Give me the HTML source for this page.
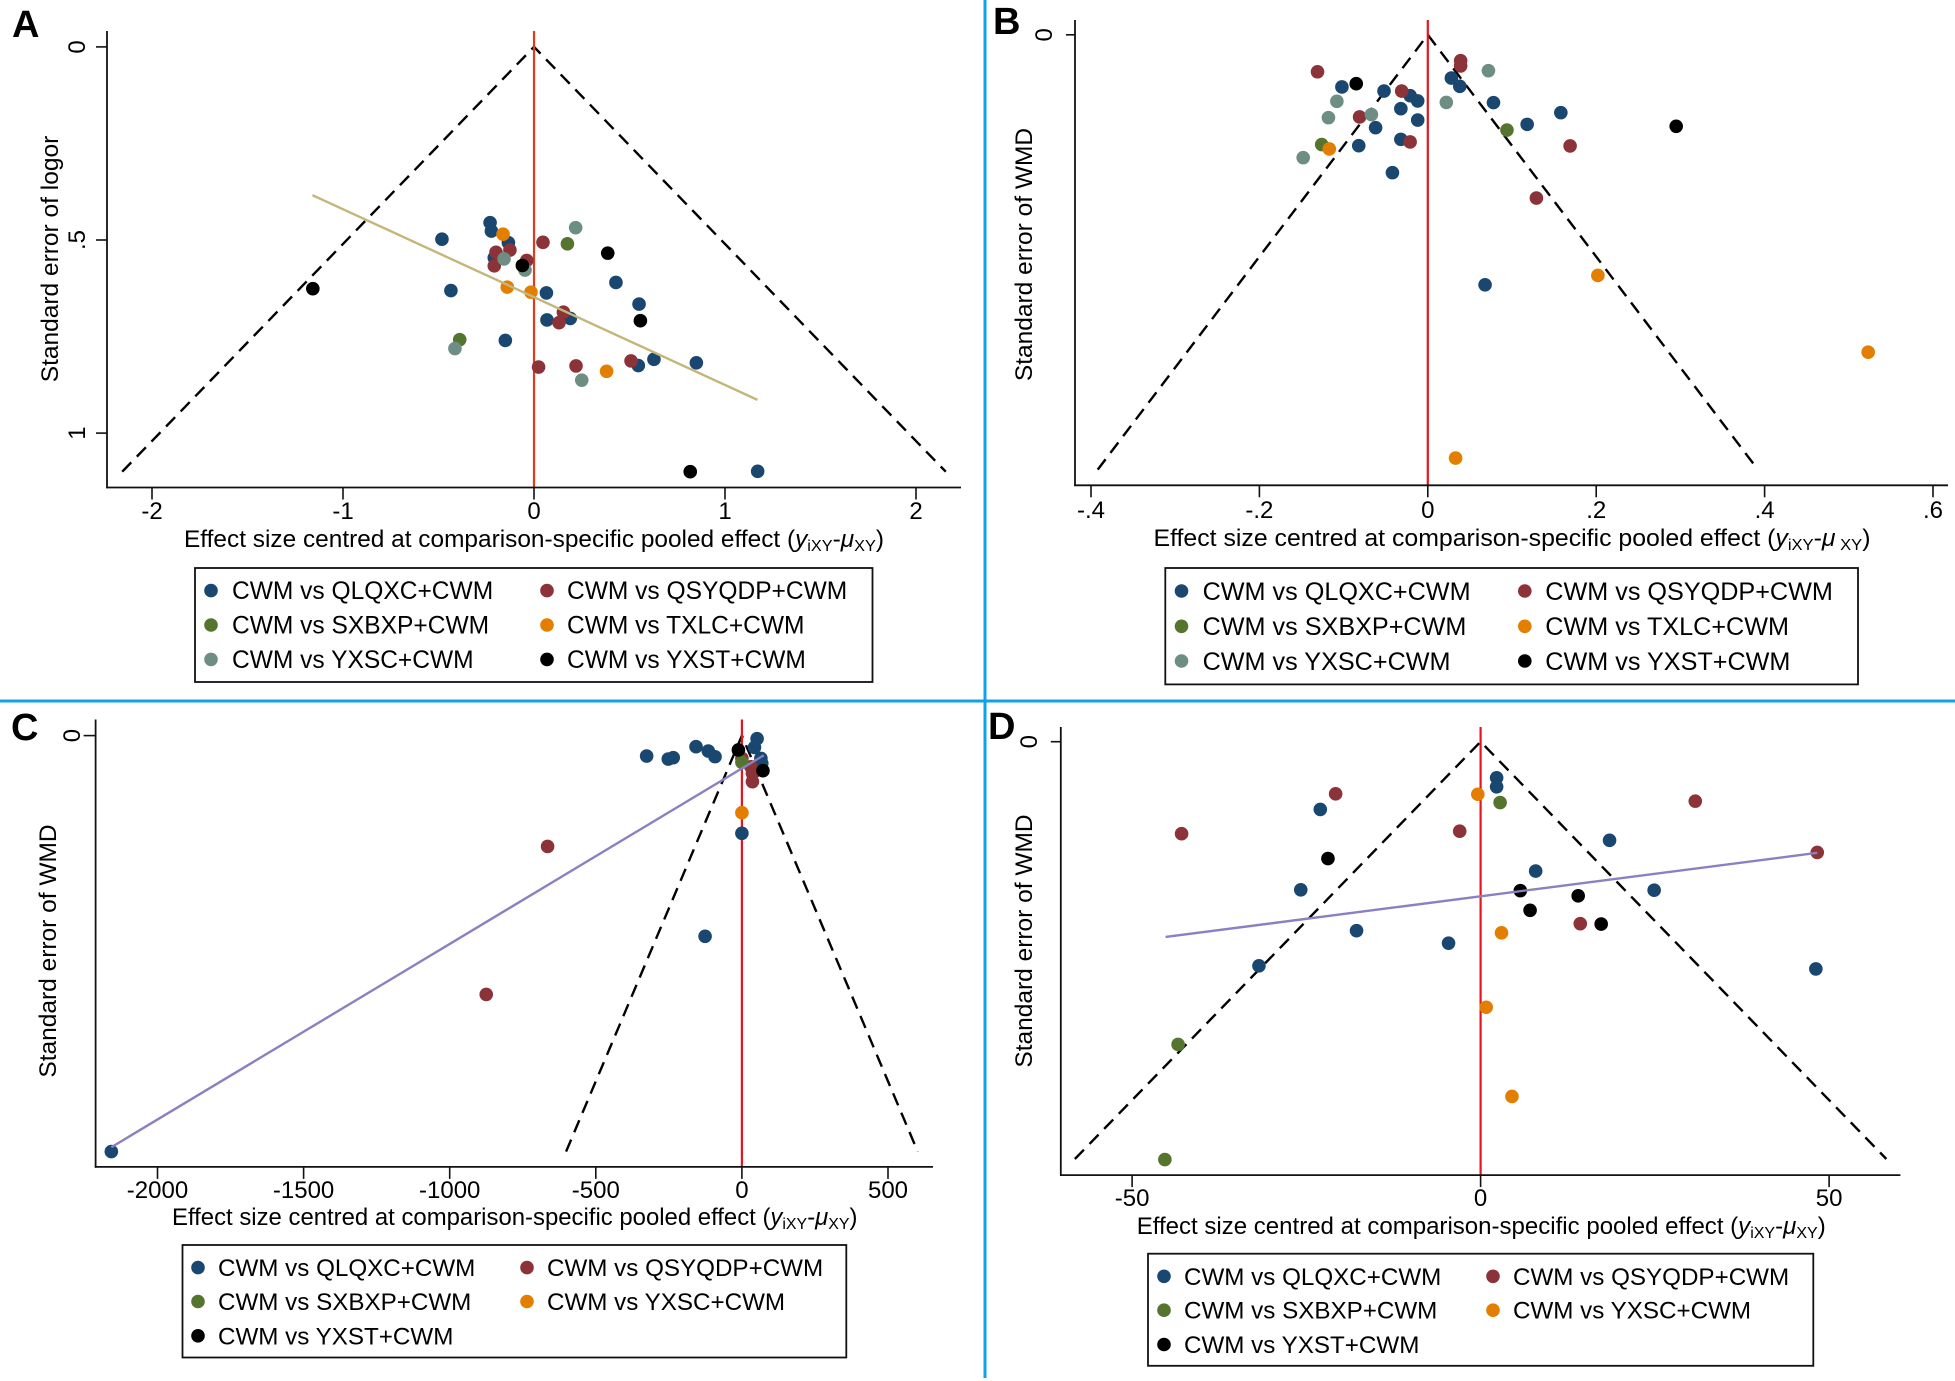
<!DOCTYPE html>
<html lang="en">
<head>
<meta charset="utf-8">
<title>Comparison-adjusted funnel plots</title>
<style>
html,body{margin:0;padding:0;background:#fff;}
svg{display:block;}
text{font-family:"Liberation Sans",Arial,sans-serif;fill:#000;}
</style>
</head>
<body>
<svg id="figure" xmlns="http://www.w3.org/2000/svg" width="1955" height="1381" viewBox="0 0 1955 1381">
  <rect x="0" y="0" width="1955" height="1381" fill="#fff"/>
  <rect x="0" y="699.5" width="1955" height="3" fill="#0ea2e6"/>
  <rect x="983.5" y="0" width="3" height="1378" fill="#0ea2e6"/>
</svg>
<script>
/* ---------- Panel A data: [effect size, standard error] ---------- */
const aQlqxc = [[-.482,.498],[-.230,.455],[-.223,.477],[-.134,.507],[-.208,.546],[-.435,.631],[.065,.637],[.068,.707],[.190,.703],[-.150,.760],[.429,.610],[.550,.666],[.628,.809],[.546,.825],[.850,.818],[1.171,1.099]];
const aQsyqdp = [[.047,.506],[-.199,.532],[-.126,.526],[-.038,.553],[-.208,.567],[.154,.687],[.131,.714],[.024,.829],[.220,.826],[.508,.813]];
const aSxbxp = [[.175,.510],[-.389,.758]];
const aTxlc = [[-.162,.485],[-.140,.622],[-.016,.635],[.380,.840]];
const aYxsc = [[.218,.468],[-.157,.549],[-.047,.578],[-.414,.781],[.250,.863]];
const aYxst = [[.386,.534],[-.061,.566],[.557,.709],[-1.158,.626],[.818,1.100]];
const aTrend = [[-1.16,.384],[1.17,.914]];
const aXTicks = [-2,-1,0,1,2];
const aXTickLabels = ['-2','-1','0','1','2'];
const aYTicks = [0,.5,1];
const aYTickLabels = ['0','.5','1'];
const aFunnelSe = [1.10];

/* ---------- Panel B data ---------- */
const bQlqxc = [[-.102,.0240],[-.052,.0259],[-.021,.0280],[-.012,.0304],[-.032,.0340],[-.012,.0392],[-.062,.0427],[-.082,.0510],[-.032,.0481],[-.042,.0634],[.028,.0199],[.038,.0237],[.078,.0312],[.118,.0412],[.158,.0358],[.068,.115]];
const bQsyqdp = [[-.131,.0170],[-.031,.0259],[-.081,.0378],[-.021,.0493],[.039,.0119],[.039,.0143],[.169,.0511],[.129,.0751]];
const bSxbxp = [[-.126,.0505],[.094,.0438]];
const bTxlc = [[-.117,.0525],[.202,.1107],[.523,.146],[.033,.1947]];
const bYxsc = [[.072,.0165],[-.108,.0306],[.022,.0311],[-.067,.0367],[-.118,.0381],[-.148,.0565]];
const bYxst = [[-.085,.0225],[.295,.0421]];
const bXTicks = [-.4,-.2,0,.2,.4,.6];
const bXTickLabels = ['-.4','-.2','0','.2','.4','.6'];
const bYTicks = [0];
const bYTickLabels = ['0'];
const bFunnelSe = [.2];

/* ---------- Panel C data ---------- */
const cQlqxc = [[-326,15.1],[-252,17.3],[-235,16.3],[-157,8.2],[-115,11.4],[-92,15.6],[52,2.3],[43,8.7],[65,16.8],[68,20.5],[0,72.1],[-126,148.1],[-2158,307]];
const cQsyqdp = [[0,16.8],[31,23],[36,27.9],[36,34],[-665,81.8],[-875,191]];
const cSxbxp = [[0,19.7]];
const cYxsc = [[0,56.9]];
const cYxst = [[-12,10.6],[72,25.9]];
const cTrend = [[-2158,303.8],[75,14.5]];
const cXTicks = [-2000,-1500,-1000,-500,0,500];
const cXTickLabels = ['-2000','-1500','-1000','-500','0','500'];
const cYTicks = [0];
const cYTickLabels = ['0'];
const cFunnelSe = [307];

/* ---------- Panel D data ---------- */
const dQlqxc = [[2.3,2.57],[2.3,3.21],[-23,4.82],[18.5,7.02],[7.9,9.21],[24.9,10.57],[-25.8,10.54],[-17.8,13.45],[-4.6,14.34],[-31.8,15.95],[48.1,16.17]];
const dQsyqdp = [[-20.8,3.71],[-42.9,6.55],[-3.0,6.37],[30.8,4.23],[48.3,7.88],[14.3,12.95]];
const dSxbxp = [[2.8,4.33],[-43.4,21.55],[-45.3,29.74]];
const dYxsc = [[-.4,3.74],[3.0,13.6],[.8,18.9],[4.5,25.25]];
const dYxst = [[-21.9,8.32],[5.7,10.6],[14,10.97],[7.1,12],[17.3,12.98]];
const dTrend = [[-45.2,13.9],[48.3,7.91]];
const dXTicks = [-50,0,50];
const dXTickLabels = ['-50','0','50'];
const dYTicks = [0];
const dYTickLabels = ['0'];
const dFunnelSe = [29.7];

const NAVY = '#1a476f', MAROON = '#8c3339', GREEN = '#55752f', ORANGE = '#e37e00', TEAL = '#6e8e84', BLACK = '#000';
const NS = 'http://www.w3.org/2000/svg';
const figure = document.getElementById('figure');

function make(tag, attrs, parent) {
  const el = document.createElementNS(NS, tag);
  for (const k in attrs) el.setAttribute(k, attrs[k]);
  parent.appendChild(el);
  return el;
}

function slug(s) {
  return s.toLowerCase().replace(/[^a-z0-9]+/g, '-');
}

function drawPanel(p) {
  const xOf = v => p.x0 + p.xUnit * v;
  const yOf = v => p.y0 + p.yUnit * v;
  const g = make('g', {}, figure);
  
  

  const letter = make('text', {x: p.letterX, y: p.letterY, 'font-size': 38, 'font-weight': 'bold'}, g);
  letter.textContent = p.id.toUpperCase();
  
  

  // funnel
  const seMax = p.funnelSe[0];
  const funnel = make('polyline', {
    points: xOf(-1.96 * seMax) + ',' + yOf(seMax) + ' ' + xOf(0) + ',' + yOf(0) + ' ' + xOf(1.96 * seMax) + ',' + yOf(seMax),
    fill: 'none', stroke: '#000', 'stroke-width': 2.4, 'stroke-dasharray': '13 8'
  }, g);
  
  

  // zero line
  const zero = make('line', {x1: xOf(0), x2: xOf(0), y1: p.top, y2: p.bottom, stroke: p.zeroColor, 'stroke-width': 2.2}, g);
  
  

  // axes
  const yAxis = make('line', {x1: p.left, x2: p.left, y1: p.top, y2: p.bottom + .8, stroke: '#111', 'stroke-width': 1.8}, g);
  
  
  const xAxis = make('line', {x1: p.left - .8, x2: p.right, y1: p.bottom, y2: p.bottom, stroke: '#111', 'stroke-width': 1.8}, g);
  
  

  p.xTicks.forEach((v, i) => {
    const tick = make('line', {x1: xOf(v), x2: xOf(v), y1: p.bottom, y2: p.bottom + 12, stroke: '#111', 'stroke-width': 1.6}, g);
    
    
    const label = make('text', {x: xOf(v), y: p.xTickY, 'font-size': 24, 'text-anchor': 'middle'}, g);
    label.textContent = p.xTickLabels[i];
    
    
  });
  p.yTicks.forEach((v, i) => {
    const tick = make('line', {x1: p.left - p.yTickLen, x2: p.left, y1: yOf(v), y2: yOf(v), stroke: '#111', 'stroke-width': 1.6}, g);
    
    
    const label = make('text', {x: 0, y: 0, 'font-size': 24, 'text-anchor': 'middle',
      transform: 'translate(' + p.yTickX + ',' + yOf(v) + ') rotate(-90)'}, g);
    label.textContent = p.yTickLabels[i];
    
    
  });

  // points
  p.series.forEach(s => {
    const sg = make('g', {fill: s.color}, g);
    
    
    s.points.forEach(pt => {
      const c = make('circle', {cx: xOf(pt[0]), cy: yOf(pt[1]), r: 6.8}, sg);
      
      
    });
  });

  // trend line
  if (p.trend) {
    const t = make('line', {x1: xOf(p.trend[0][0]), y1: yOf(p.trend[0][1]), x2: xOf(p.trend[1][0]), y2: yOf(p.trend[1][1]),
      stroke: p.trendColor, 'stroke-width': 2.4}, g);
    
    
  }

  // axis titles
  const xt = make('text', {x: p.xTitleX, y: p.xTitleY, 'font-size': 24, textLength: p.xTitleW, lengthAdjust: 'spacingAndGlyphs'}, g);
  
  
  xt.appendChild(document.createTextNode('Effect size centred at comparison-specific pooled effect ('));
  const y1 = make('tspan', {'font-style': 'italic'}, xt);
  y1.textContent = 'y';
  const sub1 = make('tspan', {'font-size': 16, dy: 4}, xt);
  sub1.textContent = 'iXY';
  const dash = make('tspan', {dy: -4}, xt);
  dash.textContent = '-';
  const mu = make('tspan', {'font-style': 'italic'}, xt);
  mu.textContent = '\u03BC';
  const sub2 = make('tspan', {'font-size': 16, dy: 4}, xt);
  sub2.textContent = p.muGap ? ' XY' : 'XY';
  const close = make('tspan', {dy: -4}, xt);
  close.textContent = ')';

  const yt = make('text', {x: 0, y: 0, 'font-size': 24.5, 'text-anchor': 'middle',
    transform: 'translate(' + p.yTitleX + ',' + p.yTitleY + ') rotate(-90)'}, g);
  yt.textContent = p.yTitle;
  
  

  // legend
  const lg = make('g', {}, g);
  
  
  const box = make('rect', {x: p.legX, y: p.legY, width: p.legW, height: p.legH, fill: '#fff', stroke: '#111', 'stroke-width': 1.8}, lg);
  
  
  p.series.forEach((s, i) => {
    const col = i % 2, row = Math.floor(i / 2);
    const e = make('g', {}, lg);
    
    
    const m = make('circle', {cx: p.legMarkX[col], cy: p.legRowY[row], r: 6.8, fill: s.color}, e);
    
    
    const t = make('text', {x: p.legTextX[col], y: p.legRowY[row] + p.legFont * .35, 'font-size': p.legFont}, e);
    t.textContent = s.name;
    
    
  });
}

drawPanel({
  id: 'a', letterX: 12, letterY: 37, zeroColor: '#e23a1c', trend: aTrend, trendColor: '#c4b67a', funnelSe: aFunnelSe,
  x0: 534, xUnit: 191, y0: 46.9, yUnit: 386.2,
  left: 107, right: 961, top: 31, bottom: 487.5, yTickLen: 11, yTickX: 85,
  xTicks: aXTicks, xTickLabels: aXTickLabels, xTickY: 519, yTicks: aYTicks, yTickLabels: aYTickLabels,
  xTitleX: 184, xTitleY: 547, xTitleW: 700, yTitle: 'Standard error of logor', yTitleX: 58, yTitleY: 259,
  legX: 195, legY: 568, legW: 677.5, legH: 114, legRowY: [590.6, 625, 659.4], legMarkX: [211, 547], legTextX: [232, 567], legFont: 24.55,
  series: [
    {name: 'CWM vs QLQXC+CWM', color: NAVY, points: aQlqxc},
    {name: 'CWM vs QSYQDP+CWM', color: MAROON, points: aQsyqdp},
    {name: 'CWM vs SXBXP+CWM', color: GREEN, points: aSxbxp},
    {name: 'CWM vs TXLC+CWM', color: ORANGE, points: aTxlc},
    {name: 'CWM vs YXSC+CWM', color: TEAL, points: aYxsc},
    {name: 'CWM vs YXST+CWM', color: BLACK, points: aYxst}
  ]
});

drawPanel({
  id: 'b', letterX: 993, letterY: 34, zeroColor: '#e5141f', funnelSe: bFunnelSe,
  x0: 1427.8, xUnit: 842, y0: 34.8, yUnit: 2174, muGap: true,
  left: 1075, right: 1948, top: 20, bottom: 485.3, yTickLen: 9, yTickX: 1052,
  xTicks: bXTicks, xTickLabels: bXTickLabels, xTickY: 518, yTicks: bYTicks, yTickLabels: bYTickLabels,
  xTitleX: 1153.5, xTitleY: 546, xTitleW: 717, yTitle: 'Standard error of WMD', yTitleX: 1032, yTitleY: 254.5,
  legX: 1165.3, legY: 568, legW: 692.7, legH: 116.4, legRowY: [591, 626.3, 661], legMarkX: [1181.5, 1524.8], legTextX: [1202.6, 1545.3], legFont: 25.2,
  series: [
    {name: 'CWM vs QLQXC+CWM', color: NAVY, points: bQlqxc},
    {name: 'CWM vs QSYQDP+CWM', color: MAROON, points: bQsyqdp},
    {name: 'CWM vs SXBXP+CWM', color: GREEN, points: bSxbxp},
    {name: 'CWM vs TXLC+CWM', color: ORANGE, points: bTxlc},
    {name: 'CWM vs YXSC+CWM', color: TEAL, points: bYxsc},
    {name: 'CWM vs YXST+CWM', color: BLACK, points: bYxst}
  ]
});

drawPanel({
  id: 'c', letterX: 11, letterY: 740, zeroColor: '#e8141f', trend: cTrend, trendColor: '#8a80c2', funnelSe: cFunnelSe,
  x0: 741.9, xUnit: .2922, y0: 735.6, yUnit: 1.355,
  left: 95.6, right: 933, top: 719.5, bottom: 1166.9, yTickLen: 12, yTickX: 80,
  xTicks: cXTicks, xTickLabels: cXTickLabels, xTickY: 1198, yTicks: cYTicks, yTickLabels: cYTickLabels,
  xTitleX: 172, xTitleY: 1225, xTitleW: 685.5, yTitle: 'Standard error of WMD', yTitleX: 56, yTitleY: 951,
  legX: 182.5, legY: 1245, legW: 663.8, legH: 112.5, legRowY: [1267.6, 1301.5, 1335.8], legMarkX: [198, 527], legTextX: [218, 547], legFont: 24.2,
  series: [
    {name: 'CWM vs QLQXC+CWM', color: NAVY, points: cQlqxc},
    {name: 'CWM vs QSYQDP+CWM', color: MAROON, points: cQsyqdp},
    {name: 'CWM vs SXBXP+CWM', color: GREEN, points: cSxbxp},
    {name: 'CWM vs YXSC+CWM', color: ORANGE, points: cYxsc},
    {name: 'CWM vs YXST+CWM', color: BLACK, points: cYxst}
  ]
});

drawPanel({
  id: 'd', letterX: 988, letterY: 739, zeroColor: '#e8141f', trend: dTrend, trendColor: '#8a80c2', funnelSe: dFunnelSe,
  x0: 1480.6, xUnit: 6.97, y0: 741.7, yUnit: 14.05,
  left: 1060.8, right: 1900.4, top: 727, bottom: 1175.1, yTickLen: 10, yTickX: 1037,
  xTicks: dXTicks, xTickLabels: dXTickLabels, xTickY: 1206, yTicks: dYTicks, yTickLabels: dYTickLabels,
  xTitleX: 1136.7, xTitleY: 1234, xTitleW: 689, yTitle: 'Standard error of WMD', yTitleX: 1032, yTitleY: 941,
  legX: 1148, legY: 1253.7, legW: 665.3, legH: 112.1, legRowY: [1276.3, 1310.2, 1344.5], legMarkX: [1164, 1493], legTextX: [1184, 1513], legFont: 24.2,
  series: [
    {name: 'CWM vs QLQXC+CWM', color: NAVY, points: dQlqxc},
    {name: 'CWM vs QSYQDP+CWM', color: MAROON, points: dQsyqdp},
    {name: 'CWM vs SXBXP+CWM', color: GREEN, points: dSxbxp},
    {name: 'CWM vs YXSC+CWM', color: ORANGE, points: dYxsc},
    {name: 'CWM vs YXST+CWM', color: BLACK, points: dYxst}
  ]
});
</script>
</body>
</html>
